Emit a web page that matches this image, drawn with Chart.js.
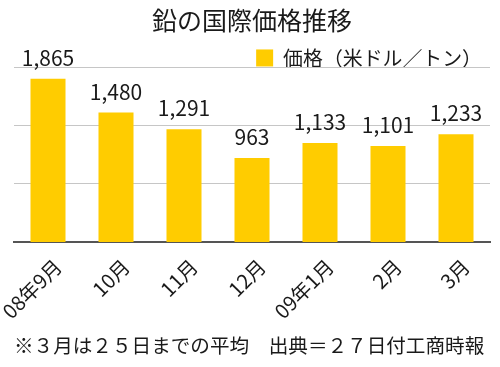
<!DOCTYPE html>
<html lang="ja">
<head>
<meta charset="utf-8">
<script src="https://cdn.jsdelivr.net/npm/chart.js@4/dist/chart.umd.min.js"></script>
<style>
  html, body { margin: 0; padding: 0; background: #fff; }
  #wrap { width: 500px; height: 367px; }
</style>
</head>
<body>
<div id="wrap"><canvas id="leadChart" width="500" height="367"></canvas></div>
<script>
// データ
const months = ['08年9月', '10月', '11月', '12月', '09年1月', '2月', '3月'];
const prices = [1865, 1480, 1291, 963, 1133, 1101, 1233];
const seriesName = '価格（米ドル／トン）';
const chartTitle = '鉛の国際価格推移';
const footNote = '※３月は２５日までの平均　出典＝２７日付工商時報';

const JP = "'Noto Sans CJK JP', 'Noto Sans', sans-serif";
Chart.defaults.font.family = JP;
Chart.defaults.color = '#1a1a1a';

// 棒の上に数値を表示
const valueLabels = {
  id: 'valueLabels',
  afterDatasetsDraw(chart) {
    const ctx = chart.ctx;
    const meta = chart.getDatasetMeta(0);
    ctx.save();
    ctx.font = '21px ' + JP;
    ctx.fillStyle = '#1a1a1a';
    ctx.textAlign = 'center';
    ctx.textBaseline = 'alphabetic';
    meta.data.forEach((bar, i) => {
      ctx.fillText(prices[i].toLocaleString('en-US'), bar.x, bar.y - 13);
    });
    ctx.restore();
  }
};

const ctx = document.getElementById('leadChart').getContext('2d');
new Chart(ctx, {
  type: 'bar',
  data: {
    labels: months,
    datasets: [{
      label: seriesName,
      data: prices,
      backgroundColor: '#ffcc00',
      borderWidth: 0,
      barPercentage: 0.515,
      categoryPercentage: 1
    }]
  },
  options: {
    responsive: false,
    animation: false,
    layout: { padding: { left: 14, right: 10, top: 0, bottom: 10 } },
    plugins: {
      title: {
        display: true,
        text: chartTitle,
        font: { size: 25, weight: 'normal' },
        color: '#1a1a1a',
        padding: { top: 5, bottom: 5 }
      },
      legend: {
        position: 'top',
        align: 'end',
        maxHeight: 27,
        labels: {
          boxWidth: 17,
          boxHeight: 17,
          font: { size: 19.9 },
          color: '#1a1a1a',
          padding: 8
        }
      },
      subtitle: {
        display: true,
        position: 'bottom',
        align: 'start',
        text: footNote,
        font: { size: 19.6, weight: 'normal' },
        color: '#1a1a1a',
        padding: { top: 0, bottom: 0 }
      },
      tooltip: { enabled: false }
    },
    scales: {
      x: {
        grid: { display: false },
        border: { color: '#555', width: 2 },
        ticks: {
          maxRotation: 45,
          minRotation: 45,
          font: { size: 20 },
          color: '#1a1a1a',
          padding: 4,
          labelOffset: 10
        },
        afterFit(scale) {
          scale.paddingLeft = 0;
          scale.paddingRight = 0;
          scale.height = 91;
        }
      },
      y: {
        min: 0,
        max: 2000,
        ticks: { display: false, count: 4 },
        grid: { color: '#c6c6c6', lineWidth: 1, drawTicks: false },
        border: { display: false },
        afterFit(scale) { scale.width = 0; }
      }
    }
  },
  plugins: [valueLabels]
});
</script>
</body>
</html>
